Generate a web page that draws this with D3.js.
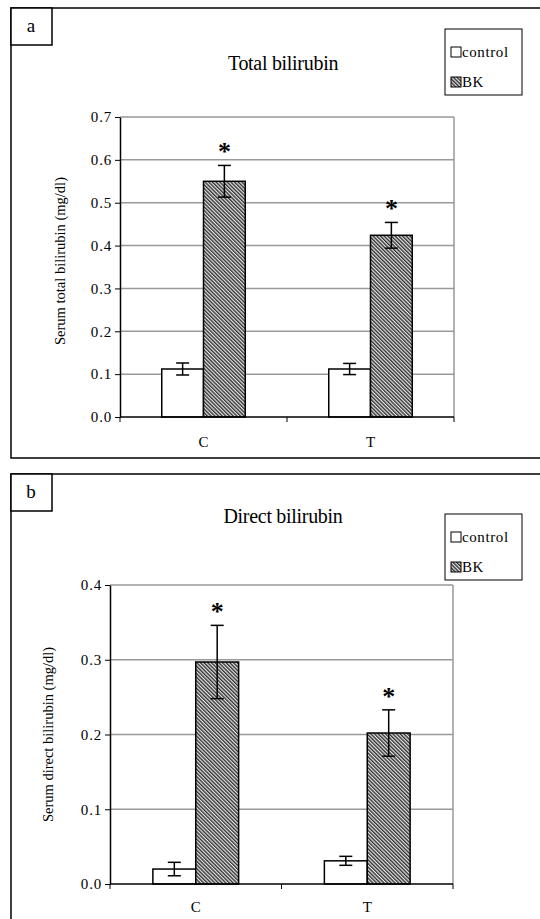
<!DOCTYPE html>
<html>
<head>
<meta charset="utf-8">
<script src="https://cdn.jsdelivr.net/npm/d3@7"></script>
<style>
  html, body { margin: 0; padding: 0; background: #fff; }
  svg { display: block; }
</style>
</head>
<body>
<svg id="chart" width="540" height="919" font-family="Liberation Serif"></svg>
<script>
// ---- data ----
const categories = ["C", "T"];
const seriesNames = ["control", "BK"];

const totalControl = [0.112, 0.112];
const totalControlErr = [0.014, 0.013];
const totalBK = [0.550, 0.424];
const totalBKErr = [0.037, 0.030];
const totalTicks = [0.0, 0.1, 0.2, 0.3, 0.4, 0.5, 0.6, 0.7];

const directControl = [0.020, 0.031];
const directControlErr = [0.009, 0.006];
const directBK = [0.297, 0.202];
const directBKErr = [0.049, 0.031];
const directTicks = [0.0, 0.1, 0.2, 0.3, 0.4];

const FONT = '"Liberation Serif"';
const svg = d3.select("#chart");

// hatch pattern (fine diagonal, top-left to bottom-right)
const defs = svg.append("defs");
const pat = defs.append("pattern")
  .attr("id", "hatch")
  .attr("patternUnits", "userSpaceOnUse")
  .attr("width", 2.6).attr("height", 2.6)
  .attr("patternTransform", "rotate(-45)");
pat.append("rect").attr("width", 2.6).attr("height", 2.6).attr("fill", "#e6e6e6");
pat.append("line").attr("x1", 0.7).attr("y1", 0).attr("x2", 0.7).attr("y2", 2.6)
  .attr("stroke", "#333").attr("stroke-width", 1.4);

function txt(sel) {
  return sel.attr("font-family", FONT).attr("fill", "#000");
}

function drawPanel(cfg) {
  const g = svg.append("g");

  // panel frame
  g.append("rect")
    .attr("x", 11).attr("y", cfg.frameTop)
    .attr("width", 560).attr("height", cfg.frameBottom - cfg.frameTop)
    .attr("fill", "none").attr("stroke", "#000").attr("stroke-width", 1.5);
  // letter box
  g.append("rect")
    .attr("x", 11).attr("y", cfg.frameTop)
    .attr("width", 41).attr("height", 37)
    .attr("fill", "#fff").attr("stroke", "#000").attr("stroke-width", 1.5);
  txt(g.append("text"))
    .attr("x", 31).attr("y", cfg.frameTop + 24)
    .attr("text-anchor", "middle").attr("font-size", 19)
    .text(cfg.letter);

  // title
  txt(g.append("text"))
    .attr("x", 283).attr("y", cfg.titleY)
    .attr("text-anchor", "middle").attr("font-size", 20)
    .attr("letter-spacing", -0.3)
    .text(cfg.title);

  // legend
  const lg = g.append("g");
  lg.append("rect")
    .attr("x", 445).attr("y", cfg.legendTop)
    .attr("width", 77).attr("height", 66)
    .attr("fill", "#fff").attr("stroke", "#000").attr("stroke-width", 1);
  seriesNames.forEach((s, i) => {
    const cy = cfg.legendTop + 23 + i * 30;
    lg.append("rect")
      .attr("x", 451).attr("y", cy - 5).attr("width", 10).attr("height", 10)
      .attr("fill", i === 0 ? "#fff" : "url(#hatch)")
      .attr("stroke", "#000").attr("stroke-width", 1);
    txt(lg.append("text"))
      .attr("x", 462).attr("y", cy + 5)
      .attr("font-size", 15).attr("letter-spacing", 0.6)
      .text(s);
  });

  // scales
  const x = d3.scaleBand().domain(categories).range([cfg.left, cfg.right]).padding(0);
  const x1 = d3.scaleBand().domain(seriesNames).range([0, x.bandwidth()])
    .paddingInner(0).paddingOuter(1);
  const y = d3.scaleLinear().domain([0, cfg.ticks[cfg.ticks.length - 1]])
    .range([cfg.bottom, cfg.top]);

  // gridlines
  g.append("g").selectAll("line").data(cfg.ticks.slice(1)).join("line")
    .attr("x1", cfg.left).attr("x2", cfg.right)
    .attr("y1", d => y(d)).attr("y2", d => y(d))
    .attr("stroke", "#999").attr("stroke-width", 1.5);
  // right border
  g.append("line")
    .attr("x1", cfg.right).attr("x2", cfg.right)
    .attr("y1", cfg.top).attr("y2", cfg.bottom)
    .attr("stroke", "#999").attr("stroke-width", 1.5);

  // y axis
  const yAxis = d3.axisLeft(y).tickValues(cfg.ticks).tickFormat(d3.format(".1f"))
    .tickSizeInner(5).tickSizeOuter(0).tickPadding(3);
  const ya = g.append("g").attr("transform", `translate(${cfg.left},0)`).call(yAxis)
    .attr("font-family", FONT).attr("font-size", 15);
  ya.select(".domain").attr("stroke", "#000").attr("stroke-width", 1.5);
  ya.selectAll(".tick line").attr("stroke", "#000").attr("stroke-width", 1);
  ya.selectAll(".tick text").attr("font-size", 15).attr("letter-spacing", 0.8)
    .attr("font-family", FONT).attr("fill", "#000");

  // y label
  txt(g.append("text"))
    .attr("transform", `translate(${cfg.ylabelX},${(cfg.top + cfg.bottom) / 2 + cfg.ylabelDy}) rotate(-90)`)
    .attr("text-anchor", "middle").attr("font-size", 14.5)
    .text(cfg.ylabel);

  // bars
  const rows = [];
  categories.forEach((c, i) => {
    rows.push({ c, s: "control", v: cfg.control[i], e: cfg.controlErr[i] });
    rows.push({ c, s: "BK", v: cfg.bk[i], e: cfg.bkErr[i] });
  });
  g.append("g").selectAll("rect").data(rows).join("rect")
    .attr("x", d => x(d.c) + x1(d.s))
    .attr("width", x1.bandwidth())
    .attr("y", d => y(d.v))
    .attr("height", d => y(0) - y(d.v))
    .attr("fill", d => d.s === "control" ? "#fff" : "url(#hatch)")
    .attr("stroke", "#000").attr("stroke-width", 1.5);

  // error bars
  const eb = g.append("g").attr("stroke", "#000").attr("stroke-width", 1.5);
  rows.forEach(d => {
    const cx = x(d.c) + x1(d.s) + x1.bandwidth() / 2;
    const capW = 6.5;
    eb.append("line").attr("x1", cx).attr("x2", cx)
      .attr("y1", y(d.v + d.e)).attr("y2", y(d.v - d.e));
    eb.append("line").attr("x1", cx - capW).attr("x2", cx + capW)
      .attr("y1", y(d.v + d.e)).attr("y2", y(d.v + d.e));
    eb.append("line").attr("x1", cx - capW).attr("x2", cx + capW)
      .attr("y1", y(d.v - d.e)).attr("y2", y(d.v - d.e));
  });

  // asterisks
  rows.filter(d => d.s === "BK").forEach(d => {
    const cx = x(d.c) + x1(d.s) + x1.bandwidth() / 2;
    txt(g.append("text"))
      .attr("x", cx).attr("y", y(d.v + d.e) - 19 + 14)
      .attr("text-anchor", "middle").attr("font-size", 26).attr("font-weight", "bold")
      .text("*");
  });

  // x axis
  g.append("line")
    .attr("x1", cfg.left).attr("x2", cfg.right)
    .attr("y1", y(0)).attr("y2", y(0))
    .attr("stroke", "#000").attr("stroke-width", 1.5);
  const bounds = [x(categories[0])].concat(categories.map(c => x(c) + x.bandwidth()));
  g.append("g").selectAll("line").data(bounds).join("line")
    .attr("x1", d => d).attr("x2", d => d)
    .attr("y1", y(0)).attr("y2", y(0) + 5)
    .attr("stroke", "#000").attr("stroke-width", 1);
  txt(g.append("g").selectAll("text").data(categories).join("text"))
    .attr("x", d => x(d) + x.bandwidth() / 2)
    .attr("y", y(0) + cfg.xlabelDy)
    .attr("text-anchor", "middle").attr("font-size", 15)
    .text(d => d);
}

drawPanel({
  letter: "a", title: "Total bilirubin",
  frameTop: 8, frameBottom: 458,
  titleY: 70, legendTop: 29,
  left: 120, right: 454, top: 117, bottom: 417,
  ticks: totalTicks,
  control: totalControl, controlErr: totalControlErr,
  bk: totalBK, bkErr: totalBKErr,
  ylabel: "Serum total bilirubin (mg/dl)", ylabelX: 65, ylabelDy: -6,
  xlabelDy: 30
});

drawPanel({
  letter: "b", title: "Direct bilirubin",
  frameTop: 474, frameBottom: 930,
  titleY: 523, legendTop: 514,
  left: 110, right: 453, top: 585, bottom: 884,
  ticks: directTicks,
  control: directControl, controlErr: directControlErr,
  bk: directBK, bkErr: directBKErr,
  ylabel: "Serum direct bilirubin (mg/dl)", ylabelX: 53, ylabelDy: 0,
  xlabelDy: 28
});
</script>
</body>
</html>
